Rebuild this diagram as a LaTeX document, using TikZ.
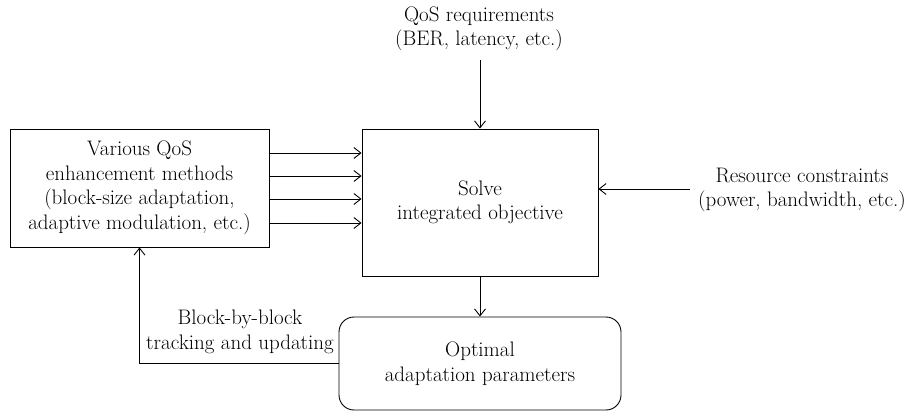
\documentclass[tikz,border=0pt]{standalone}
\usetikzlibrary{arrows.meta}
\begin{document}
\begin{tikzpicture}[x=1pt,y=-1pt,
  every node/.style={font=\rmfamily\fontsize{21}{24.5}\selectfont, align=center},
  box/.style={draw, line width=0.9pt, inner sep=0pt},
  arr/.style={draw, line width=0.9pt, -{Straight Barb[length=7pt,width=11pt,line width=0.9pt]}}]
\useasboundingbox (0,0) rectangle (909,412);
\node[box, minimum width=259pt, minimum height=118pt] (meth) at (139.5,188)
  {Various QoS\\enhancement methods\\(block-size adaptation,\\adaptive modulation, etc.)};
\node[box, minimum width=236pt, minimum height=147pt] (solve) at (480,202.5)
  {Solve\\integrated objective};
\node[box, rounded corners=15pt, minimum width=282pt, minimum height=93pt] (opt) at (480,363.5)
  {Optimal\\adaptation parameters};
\node (qos) at (479,29) {QoS requirements\\(BER, latency, etc.)};
\node (res) at (802,190) {Resource constraints\\(power, bandwidth, etc.)};
\node (fb) at (240,332) {Block-by-block\\tracking and updating};
\coordinate (qosend) at (480,60);
\coordinate (resend) at (690,189);
\foreach \y in {153,176,199,223}
  \draw[arr] (meth.east |- 0,\y) -- (solve.west |- 0,\y);
\draw[arr] (qosend) -- (solve.north);
\draw[arr] (resend) -- (solve.east |- resend);
\draw[arr] (solve.south) -- (opt.north);
\draw[arr] (opt.west) -| (meth.south);
\end{tikzpicture}
\end{document}
